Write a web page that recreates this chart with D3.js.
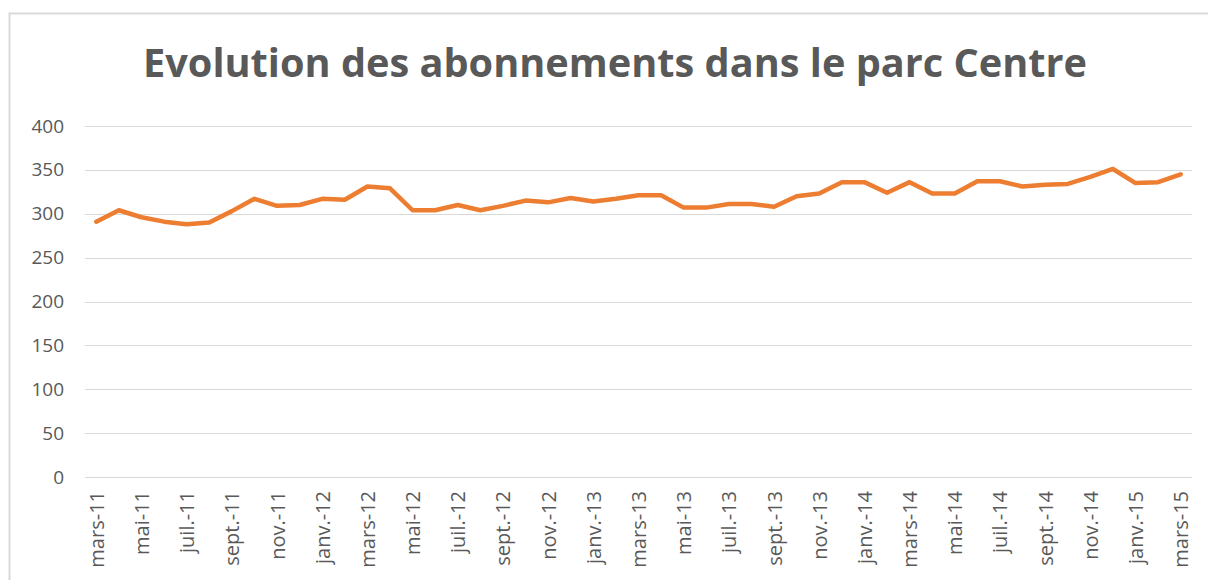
<!DOCTYPE html>
<html>
<head>
<meta charset="utf-8">
<script src="https://cdn.jsdelivr.net/npm/d3@7"></script>
<style>
  body { margin: 0; background: #fff; }
  svg { display: block; font-family: "Open Sans", sans-serif; }
</style>
</head>
<body>
<script>
// mois de mars-11 à mars-15
var categories = [
  'mars-11', 'avr.-11', 'mai-11', 'juin-11', 'juil.-11', 'août-11', 'sept.-11', 'oct.-11', 'nov.-11', 'déc.-11',
  'janv.-12', 'févr.-12', 'mars-12', 'avr.-12', 'mai-12', 'juin-12', 'juil.-12', 'août-12', 'sept.-12', 'oct.-12', 'nov.-12', 'déc.-12',
  'janv.-13', 'févr.-13', 'mars-13', 'avr.-13', 'mai-13', 'juin-13', 'juil.-13', 'août-13', 'sept.-13', 'oct.-13', 'nov.-13', 'déc.-13',
  'janv.-14', 'févr.-14', 'mars-14', 'avr.-14', 'mai-14', 'juin-14', 'juil.-14', 'août-14', 'sept.-14', 'oct.-14', 'nov.-14', 'déc.-14',
  'janv.-15', 'févr.-15', 'mars-15'
];
var abonnements = [
  291, 304, 296, 291, 288, 290, 303, 317, 309, 310,
  317, 316, 331, 329, 304, 304, 310, 304, 309, 315, 313, 318,
  314, 317, 321, 321, 307, 307, 311, 311, 308, 320, 323, 336,
  336, 324, 336, 323, 323, 337, 337, 331, 333, 334, 342, 351,
  335, 336, 345
];
var yTicks = [0, 50, 100, 150, 200, 250, 300, 350, 400];
var titre = 'Evolution des abonnements dans le parc Centre';

var width = 1208, height = 580;
var svg = d3.select('body').append('svg').attr('width', width).attr('height', height);

// cadre du graphique
svg.append('rect')
  .attr('x', 9.5).attr('y', 13.5)
  .attr('width', 1240).attr('height', 620)
  .attr('fill', 'none').attr('stroke', '#d9d9d9').attr('stroke-width', 2);

svg.append('text')
  .attr('x', 615).attr('y', 77)
  .attr('text-anchor', 'middle')
  .attr('font-size', 40).attr('font-weight', 'bold')
  .attr('fill', '#595959')
  .attr('textLength', 944).attr('lengthAdjust', 'spacingAndGlyphs')
  .text(titre);

var x = d3.scalePoint().domain(categories).range([85, 1192]).padding(0.5);
var y = d3.scaleLinear().domain([0, 400]).range([477, 126]);

// grille
svg.append('g').selectAll('line')
  .data(yTicks)
  .enter()
  .append('line')
  .attr('x1', 85).attr('x2', 1192)
  .attr('y1', function (d) { return Math.round(y(d)) + 0.5; })
  .attr('y2', function (d) { return Math.round(y(d)) + 0.5; })
  .attr('stroke', '#d9d9d9').attr('stroke-width', 1);

// axe vertical
var yAxis = svg.append('g')
  .attr('transform', 'translate(64,0)')
  .call(d3.axisLeft(y).tickValues(yTicks).tickSize(0).tickPadding(0));
yAxis.select('.domain').remove();
yAxis.selectAll('text').attr('font-size', 19).attr('fill', '#595959').attr('font-family', 'Open Sans');

// axe horizontal, une étiquette sur deux
var xAxis = svg.append('g')
  .attr('transform', 'translate(0,477)')
  .call(d3.axisBottom(x).tickValues(categories.filter(function (d, i) { return i % 2 === 0; })).tickSize(0));
xAxis.select('.domain').remove();
xAxis.selectAll('text')
  .attr('font-size', 20).attr('fill', '#595959').attr('font-family', 'Open Sans')
  .attr('text-anchor', 'end')
  .attr('transform', 'rotate(-90)')
  .attr('x', -14).attr('y', 0).attr('dy', '0.35em');

var line = d3.line()
  .x(function (d, i) { return x(categories[i]); })
  .y(function (d) { return y(d); });

svg.append('path')
  .datum(abonnements)
  .attr('d', line)
  .attr('fill', 'none')
  .attr('stroke', '#ed7d31')
  .attr('stroke-width', 4.5)
  .attr('stroke-linejoin', 'round')
  .attr('stroke-linecap', 'round');
</script>
</body>
</html>
